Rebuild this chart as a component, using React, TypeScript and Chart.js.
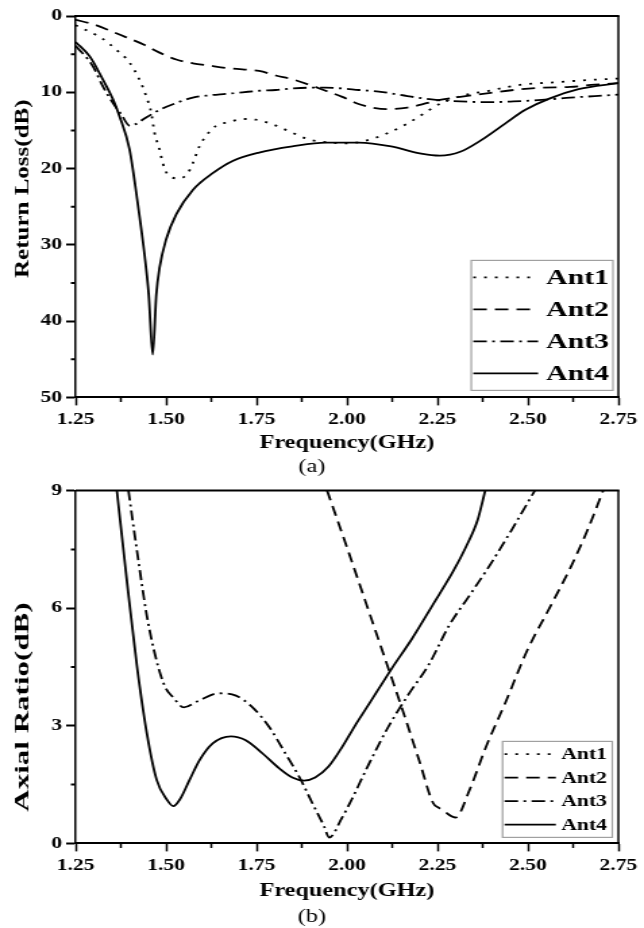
import React, { useEffect, useRef } from 'react';
import { Chart, registerables } from 'chart.js';

Chart.register(...registerables);

// ---------- data ----------
const seriesLabels = ['Ant1', 'Ant2', 'Ant3', 'Ant4'];

const freqMin = 1.25;
const freqMax = 2.75;
const freqStep = 0.25;
const freqMinorTicks = [1.375, 1.625, 1.875, 2.125, 2.375, 2.625];

// (a) Return loss (dB)
const rlMin = 0;
const rlMax = 50;
const rlStep = 10;
const rlMinorTicks = [5, 15, 25, 35, 45];

const rlFreqAnt1 = [1.25, 1.29, 1.325, 1.362, 1.399, 1.426, 1.445, 1.459, 1.468, 1.482, 1.491, 1.505, 1.537, 1.56, 1.574, 1.592, 1.606, 1.638, 1.675, 1.711, 1.748, 1.794, 1.849, 1.895, 1.932, 2.0, 2.055, 2.11, 2.167, 2.212, 2.257, 2.313, 2.392, 2.482, 2.572, 2.662, 2.75];
const rlAnt1 = [1.2, 2.1, 3.0, 4.4, 6.1, 8.3, 10.5, 12.7, 15.3, 17.5, 19.3, 20.8, 21.3, 20.6, 19.3, 17.1, 16.0, 14.4, 13.9, 13.5, 13.6, 14.2, 15.3, 16.2, 16.5, 16.7, 16.3, 15.4, 14.1, 12.8, 11.5, 10.5, 9.8, 9.0, 8.7, 8.4, 8.2];

const rlFreqAnt2 = [1.25, 1.3, 1.344, 1.39, 1.436, 1.482, 1.528, 1.574, 1.619, 1.665, 1.711, 1.757, 1.803, 1.849, 1.895, 1.941, 1.987, 2.03, 2.07, 2.11, 2.167, 2.223, 2.257, 2.313, 2.392, 2.46, 2.538, 2.617, 2.685, 2.75];
const rlAnt2 = [0.5, 1.1, 1.9, 2.8, 3.7, 4.8, 5.7, 6.2, 6.5, 6.8, 7.0, 7.2, 7.8, 8.3, 9.0, 9.8, 10.6, 11.5, 12.0, 12.2, 12.0, 11.4, 11.0, 10.6, 10.1, 9.7, 9.4, 9.3, 9.0, 8.8];

const rlFreqAnt3 = [1.25, 1.298, 1.325, 1.353, 1.376, 1.4, 1.445, 1.482, 1.528, 1.574, 1.619, 1.665, 1.711, 1.757, 1.803, 1.849, 1.895, 1.941, 1.987, 2.033, 2.088, 2.167, 2.246, 2.313, 2.392, 2.46, 2.538, 2.617, 2.685, 2.75];
const rlAnt3 = [3.9, 6.6, 9.2, 11.4, 12.9, 14.4, 13.3, 12.3, 11.4, 10.7, 10.4, 10.2, 10.0, 9.8, 9.7, 9.5, 9.4, 9.4, 9.5, 9.7, 9.9, 10.5, 11.0, 11.2, 11.3, 11.2, 11.0, 10.7, 10.5, 10.3];

const rlFreqAnt4 = [1.25, 1.289, 1.325, 1.353, 1.371, 1.399, 1.42, 1.441, 1.452, 1.463, 1.473, 1.482, 1.5, 1.528, 1.574, 1.629, 1.684, 1.757, 1.849, 1.941, 2.033, 2.122, 2.201, 2.257, 2.313, 2.37, 2.437, 2.493, 2.561, 2.64, 2.75];
const rlAnt4 = [3.4, 5.3, 8.3, 10.9, 13.1, 17.5, 24.0, 31.5, 36.5, 44.4, 36.5, 33.0, 29.3, 26.0, 22.8, 20.6, 19.0, 17.9, 17.1, 16.6, 16.6, 17.1, 18.0, 18.3, 17.8, 16.3, 14.1, 12.3, 10.8, 9.6, 8.8];

// (b) Axial ratio (dB)
const arMin = 0;
const arMax = 9;
const arStep = 3;
const arMinorTicks = [1.5, 4.5, 7.5];

const arFreqAnt1: number[] = [];
const arAnt1: number[] = [];

const arFreqAnt2 = [1.945, 2.0, 2.05, 2.1, 2.15, 2.2, 2.238, 2.255, 2.271, 2.3, 2.339, 2.384, 2.44, 2.497, 2.564, 2.62, 2.665, 2.708];
const arAnt2 = [9.0, 7.55, 6.2, 4.85, 3.5, 2.1, 1.03, 0.9, 0.8, 0.66, 1.37, 2.46, 3.64, 4.9, 6.08, 7.08, 8.0, 9.0];

const arFreqAnt3 = [1.396, 1.419, 1.447, 1.474, 1.497, 1.52, 1.549, 1.59, 1.645, 1.693, 1.739, 1.785, 1.83, 1.872, 1.904, 1.936, 1.951, 1.986, 2.013, 2.057, 2.114, 2.17, 2.226, 2.283, 2.339, 2.395, 2.452, 2.519];
const arAnt3 = [9.0, 7.5, 5.8, 4.65, 4.0, 3.72, 3.47, 3.64, 3.83, 3.77, 3.47, 2.97, 2.29, 1.63, 1.03, 0.45, 0.15, 0.65, 1.12, 1.96, 2.97, 3.8, 4.56, 5.57, 6.33, 7.1, 7.95, 9.0];

const arFreqAnt4 = [1.364, 1.392, 1.419, 1.447, 1.474, 1.502, 1.52, 1.538, 1.565, 1.593, 1.629, 1.679, 1.72, 1.766, 1.812, 1.849, 1.881, 1.912, 1.949, 1.986, 2.022, 2.057, 2.125, 2.181, 2.238, 2.294, 2.328, 2.361, 2.382];
const arAnt4 = [9.0, 6.67, 4.56, 2.8, 1.62, 1.12, 0.95, 1.12, 1.62, 2.13, 2.55, 2.73, 2.63, 2.3, 1.92, 1.68, 1.6, 1.68, 1.96, 2.45, 3.0, 3.5, 4.48, 5.24, 6.1, 6.95, 7.55, 8.25, 9.0];

// ---------- styling ----------
const FONT = '"Liberation Serif", "Times New Roman", Times, serif';
const K = 1.35; // the figure is horizontally stretched
const PAGE_W = 644;
const CANVAS_W = Math.round(PAGE_W / K);
const DASHES = [[2, 6], [10, 6], [10, 4, 2, 4], []];
const LINE_W = 1.8;

const framePlugin: any = {
  id: 'frame',
  afterDraw(chart: any, _args: any, o: any) {
    const { ctx, chartArea: a, scales } = chart;
    ctx.save();
    ctx.strokeStyle = '#000';
    ctx.setLineDash([]);
    // top and right border
    ctx.lineWidth = 2;
    ctx.beginPath();
    ctx.moveTo(a.left, a.top);
    ctx.lineTo(a.right + 0.75, a.top);
    ctx.stroke();
    ctx.lineWidth = 1.5;
    ctx.beginPath();
    ctx.moveTo(a.right, a.top);
    ctx.lineTo(a.right, a.bottom);
    ctx.stroke();
    // minor ticks
    ctx.lineWidth = 1.5;
    ctx.beginPath();
    for (const v of o.xMinor) {
      const px = scales.x.getPixelForValue(v);
      ctx.moveTo(px, a.bottom);
      ctx.lineTo(px, a.bottom + 4.5);
    }
    ctx.stroke();
    ctx.lineWidth = 2;
    ctx.beginPath();
    for (const v of o.yMinor) {
      const py = scales.y.getPixelForValue(v);
      ctx.moveTo(a.left, py);
      ctx.lineTo(a.left - 3.5, py);
    }
    ctx.stroke();
    // y-axis title (kept un-stretched like the original)
    ctx.translate(o.titleX, (a.top + a.bottom) / 2 + o.titleDy);
    ctx.scale(o.titleSquash / K, 1);
    ctx.rotate(-Math.PI / 2);
    ctx.fillStyle = '#000';
    ctx.font = `bold ${o.titleSize}px ${FONT}`;
    ctx.textAlign = 'center';
    ctx.textBaseline = 'middle';
    ctx.fillText(o.title, 0, 0);
    ctx.restore();
  },
};

const boxLegendPlugin: any = {
  id: 'boxLegend',
  afterDraw(chart: any, _args: any, o: any) {
    const { ctx, chartArea: a } = chart;
    const ds = chart.data.datasets;
    ctx.save();
    ctx.font = `bold ${o.fontSize}px ${FONT}`;
    const textW = Math.max(...ds.map((d: any) => ctx.measureText(d.label).width));
    const w = o.padL + o.sample + o.gap + textW + o.padR;
    const h = ds.length * o.rowH + o.padV * 2;
    const right = a.right - o.offR;
    const bottom = a.bottom - o.offB;
    const left = right - w;
    const top = bottom - h;
    ctx.fillStyle = '#fff';
    ctx.fillRect(left, top, w, h);
    ctx.strokeStyle = '#a0a0a0';
    ctx.lineWidth = 1.2;
    ctx.strokeRect(left, top, w, h);
    ds.forEach((d: any, i: number) => {
      const y = top + o.padV + o.rowH * (i + 0.5);
      ctx.setLineDash(d.borderDash || []);
      ctx.strokeStyle = d.borderColor;
      ctx.lineWidth = d.borderWidth;
      ctx.beginPath();
      ctx.moveTo(left + o.padL, y);
      ctx.lineTo(left + o.padL + o.sample, y);
      ctx.stroke();
      ctx.setLineDash([]);
      ctx.fillStyle = '#000';
      ctx.textAlign = 'left';
      ctx.textBaseline = 'middle';
      ctx.fillText(d.label, left + o.padL + o.sample + o.gap, y + 1);
    });
    ctx.restore();
  },
};

function toPoints(xs: number[], ys: number[]) {
  return xs.map((x, i) => ({ x, y: ys[i] }));
}

function makeDatasets(series: [number[], number[]][]) {
  return series.map(([xs, ys], i) => ({
    label: seriesLabels[i],
    data: toPoints(xs, ys),
    borderColor: '#000',
    backgroundColor: '#000',
    borderWidth: LINE_W,
    borderDash: DASHES[i],
    pointRadius: 0,
    fill: false,
    tension: 0.4,
    cubicInterpolationMode: 'monotone',
  }));
}

function buildConfig(c: any): any {
  return {
    type: 'line',
    data: { datasets: makeDatasets(c.series) },
    plugins: [framePlugin, boxLegendPlugin],
    options: {
      responsive: false,
      animation: false,
      devicePixelRatio: 1,
      layout: { padding: c.padding },
      plugins: {
        legend: { display: false },
        tooltip: { enabled: false },
        title: {
          display: true,
          text: c.caption,
          position: 'bottom',
          color: '#000',
          font: { family: FONT, size: 18, weight: 'normal', lineHeight: 1.2 },
          padding: c.captionPad,
        },
        frame: {
          xMinor: freqMinorTicks,
          yMinor: c.yMinor,
          title: c.yTitle,
          titleX: 17.5,
          titleDy: c.titleDy,
          titleSize: c.titleSize,
          titleSquash: c.titleSquash,
        },
        boxLegend: c.legend,
      },
      scales: {
        x: {
          type: 'linear',
          min: freqMin,
          max: freqMax,
          afterFit: (s: any) => { s.height = c.xAxisH; },
          ticks: {
            stepSize: freqStep,
            autoSkip: false,
            maxRotation: 0,
            color: '#000',
            padding: 5,
            font: { family: FONT, size: 16, weight: 'bold' },
            callback: (v: any) => Number(v).toFixed(2),
          },
          grid: { display: true, drawOnChartArea: false, drawTicks: true, tickLength: 8, tickColor: '#000', tickWidth: 1.5 },
          border: { display: true, color: '#000', width: 2 },
          title: {
            display: true,
            text: 'Frequency(GHz)',
            color: '#000',
            font: { family: FONT, size: 18, weight: 'bold', lineHeight: 1.2 },
            padding: { top: 0, bottom: 2 },
          },
        },
        y: {
          type: 'linear',
          min: c.yMin,
          max: c.yMax,
          reverse: c.reverse,
          afterFit: (s: any) => { s.width = 56; },
          ticks: {
            stepSize: c.yStep,
            autoSkip: false,
            color: '#000',
            padding: 3,
            font: { family: FONT, size: 16, weight: 'bold' },
          },
          grid: { display: true, drawOnChartArea: false, drawTicks: true, tickLength: 7, tickColor: '#000', tickWidth: 2 },
          border: { display: true, color: '#000', width: 1.5 },
          title: { display: false },
        },
      },
    },
  };
}

function ChartCanvas({ top, height, config }: { top: number; height: number; config: () => any }) {
  const ref = useRef<HTMLCanvasElement | null>(null);
  useEffect(() => {
    if (!ref.current) return;
    const chart = new Chart(ref.current, config());
    return () => chart.destroy();
  }, []);
  return (
    <canvas
      ref={ref}
      width={CANVAS_W}
      height={height}
      style={{ position: 'absolute', left: 0, top, width: PAGE_W + 'px', height: height + 'px' }}
    />
  );
}

export default function App() {
  const returnLoss = () =>
    buildConfig({
      series: [[rlFreqAnt1, rlAnt1], [rlFreqAnt2, rlAnt2], [rlFreqAnt3, rlAnt3], [rlFreqAnt4, rlAnt4]],
      padding: { left: 0, right: 15, top: 16, bottom: 0 },
      caption: '(a)',
      captionPad: { top: 0, bottom: 0 },
      xAxisH: 59,
      yMin: rlMin,
      yMax: rlMax,
      yStep: rlStep,
      reverse: true,
      yMinor: rlMinorTicks,
      yTitle: 'Return Loss(dB)',
      titleDy: -18,
      titleSize: 25,
      titleSquash: 0.76,
      legend: { fontSize: 22, rowH: 32, padV: 1, padL: 1.5, sample: 48, gap: 6, padR: 3, offR: 4, offB: 7 },
    });
  const axialRatio = () =>
    buildConfig({
      series: [[arFreqAnt1, arAnt1], [arFreqAnt2, arAnt2], [arFreqAnt3, arAnt3], [arFreqAnt4, arAnt4]],
      padding: { left: 0, right: 15, top: 9, bottom: 0 },
      caption: '(b)',
      captionPad: { top: 2, bottom: 0 },
      xAxisH: 61,
      yMin: arMin,
      yMax: arMax,
      yStep: arStep,
      reverse: false,
      yMinor: arMinorTicks,
      yTitle: 'Axial Ratio(dB)',
      titleDy: 40,
      titleSize: 31,
      titleSquash: 0.62,
      legend: { fontSize: 16, rowH: 23.5, padV: 1, padL: 1.5, sample: 38, gap: 4, padR: 4, offR: 4.5, offB: 6 },
    });
  return (
    <div style={{ position: 'absolute', left: 0, top: 0, width: PAGE_W, height: 928, background: '#fff' }}>
      <ChartCanvas top={0} height={478} config={returnLoss} />
      <ChartCanvas top={478} height={450} config={axialRatio} />
    </div>
  );
}
